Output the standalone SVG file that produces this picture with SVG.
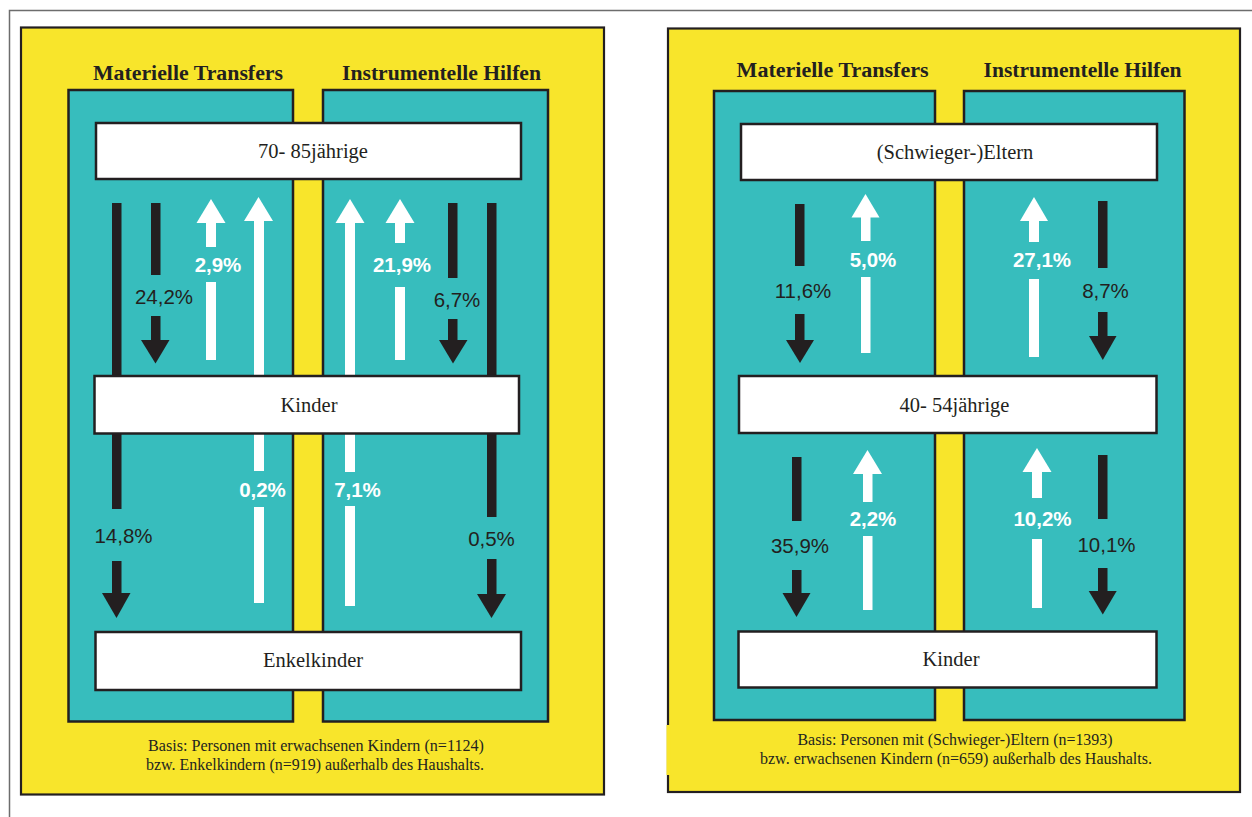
<svg xmlns="http://www.w3.org/2000/svg" width="1252" height="817" viewBox="0 0 1252 817">
<style>
.frame{fill:none;stroke:#6d6d6d;stroke-width:1.5}
.yellow{fill:#F8E52B;stroke:#231F20;stroke-width:2.2}
.cyan{fill:#37BDBD;stroke:#231F20;stroke-width:2.5}
.box{fill:#FFFFFF;stroke:#231F20;stroke-width:2.5}
.title{font-family:"Liberation Serif",serif;font-weight:bold;font-size:20px;fill:#231F20;text-anchor:middle}
.lbl{font-family:"Liberation Serif",serif;font-size:20.5px;fill:#231F20;text-anchor:middle}
.note{font-family:"Liberation Serif",serif;font-size:16px;fill:#231F20;text-anchor:middle}
.blk{fill:#231F20}
.wht{fill:#FFFFFF}
.pb{font-family:"Liberation Sans",Arial,sans-serif;font-size:20.5px;fill:#231F20;text-anchor:middle}
.pw{font-family:"Liberation Sans",Arial,sans-serif;font-size:20.5px;font-weight:bold;fill:#FFFFFF;text-anchor:middle}
</style>
<rect width="1252" height="817" fill="#FFFFFF"/>
<path class="frame" d="M9.5,817 V10.5 H1252"/>

<!-- Left panel background -->
<g id="panel-left">
<rect class="yellow" x="21" y="27.5" width="583" height="767"/>
<rect class="cyan" x="68.5" y="90" width="224.5" height="631.5"/>
<rect class="cyan" x="323" y="90" width="225" height="631.5"/>
<text class="title" x="188" y="80" textLength="190" lengthAdjust="spacingAndGlyphs">Materielle Transfers</text>
<text class="title" x="441.5" y="80" textLength="199" lengthAdjust="spacingAndGlyphs">Instrumentelle Hilfen</text>
<text class="note" x="316" y="751" textLength="336" lengthAdjust="spacingAndGlyphs">Basis: Personen mit erwachsenen Kindern (n=1124)</text>
<text class="note" x="315" y="770" textLength="338" lengthAdjust="spacingAndGlyphs">bzw. Enkelkindern (n=919) außerhalb des Haushalts.</text>
</g>

<!-- Right panel background -->
<g id="panel-right">
<rect class="yellow" x="668" y="28.5" width="572" height="763.5"/>
<rect x="666.5" y="725" width="4" height="50" fill="#F8E52B"/>
<rect class="cyan" x="714" y="91" width="221" height="629"/>
<rect class="cyan" x="964" y="91" width="220.5" height="629"/>
<text class="title" x="832.6" y="77" textLength="192" lengthAdjust="spacingAndGlyphs">Materielle Transfers</text>
<text class="title" x="1082.6" y="77" textLength="198" lengthAdjust="spacingAndGlyphs">Instrumentelle Hilfen</text>
<text class="note" x="955" y="745" textLength="315" lengthAdjust="spacingAndGlyphs">Basis: Personen mit (Schwieger-)Eltern (n=1393)</text>
<text class="note" x="956" y="764" textLength="392" lengthAdjust="spacingAndGlyphs">bzw. erwachsenen Kindern (n=659) außerhalb des Haushalts.</text>
</g>

<!-- Connectors -->
<g id="connectors">
<!-- Left: Materielle -->
<g id="c-14-8">
<rect class="blk" x="112" y="203" width="9.5" height="306"/>
<rect class="blk" x="112" y="561" width="9.5" height="33"/>
<polygon class="blk" points="102,593 130.5,593 116.5,618"/>
<text class="pb" x="123.5" y="543">14,8%</text>
</g>
<g id="c-24-2">
<rect class="blk" x="151" y="203" width="9.5" height="72"/>
<rect class="blk" x="151" y="316" width="9.5" height="25"/>
<polygon class="blk" points="141,340 169.5,340 155.5,363.5"/>
<text class="pb" x="164" y="304">24,2%</text>
</g>
<g id="c-2-9">
<polygon class="wht" points="211,199 225.5,223 196.5,223"/>
<rect class="wht" x="206" y="222" width="10" height="25"/>
<rect class="wht" x="206" y="282" width="10" height="78"/>
<text class="pw" x="218" y="272">2,9%</text>
</g>
<g id="c-0-2">
<polygon class="wht" points="258.5,197 273,221 244,221"/>
<rect class="wht" x="254" y="220" width="10" height="251"/>
<rect class="wht" x="254" y="507" width="10" height="96"/>
<text class="pw" x="262.5" y="497">0,2%</text>
</g>
<!-- Left: Instrumentelle -->
<g id="c-7-1">
<polygon class="wht" points="350,199 364.5,223 335.5,223"/>
<rect class="wht" x="345" y="222" width="10" height="250"/>
<rect class="wht" x="345" y="506" width="10" height="100"/>
<text class="pw" x="357.5" y="497">7,1%</text>
</g>
<g id="c-21-9">
<polygon class="wht" points="400,199 414.5,223 385.5,223"/>
<rect class="wht" x="395" y="222" width="10" height="21"/>
<rect class="wht" x="395" y="287" width="10" height="73"/>
<text class="pw" x="402" y="272">21,9%</text>
</g>
<g id="c-6-7">
<rect class="blk" x="448" y="203" width="9.5" height="75"/>
<rect class="blk" x="448" y="319" width="9.5" height="22"/>
<polygon class="blk" points="439,340 467.5,340 453,363.5"/>
<text class="pb" x="457" y="307">6,7%</text>
</g>
<g id="c-0-5">
<rect class="blk" x="487" y="203" width="9.5" height="314"/>
<rect class="blk" x="487" y="559" width="9.5" height="36"/>
<polygon class="blk" points="477,594 506,594 491.5,618"/>
<text class="pb" x="491.5" y="546">0,5%</text>
</g>
<!-- Right: Materielle -->
<g id="c-11-6">
<rect class="blk" x="795" y="204" width="9.5" height="62"/>
<rect class="blk" x="795" y="314" width="9.5" height="27"/>
<polygon class="blk" points="786,340 814,340 800,363"/>
<text class="pb" x="803" y="298">11,6%</text>
</g>
<g id="c-5-0">
<polygon class="wht" points="865.5,194 879.5,217.5 851.5,217.5"/>
<rect class="wht" x="861" y="216.5" width="9.5" height="24.5"/>
<rect class="wht" x="861" y="277" width="9.5" height="76"/>
<text class="pw" x="873" y="267">5,0%</text>
</g>
<g id="c-35-9">
<rect class="blk" x="792" y="457" width="9.5" height="64"/>
<rect class="blk" x="792" y="570" width="9.5" height="24"/>
<polygon class="blk" points="782.5,593 810.5,593 796.5,617"/>
<text class="pb" x="800" y="553">35,9%</text>
</g>
<g id="c-2-2">
<polygon class="wht" points="867.5,450 882,474 853,474"/>
<rect class="wht" x="863" y="473" width="9.5" height="29"/>
<rect class="wht" x="863" y="536" width="9.5" height="74"/>
<text class="pw" x="873" y="526">2,2%</text>
</g>
<!-- Right: Instrumentelle -->
<g id="c-27-1">
<polygon class="wht" points="1034,197 1048,221 1020,221"/>
<rect class="wht" x="1029" y="220" width="10" height="22"/>
<rect class="wht" x="1029" y="279" width="10" height="78"/>
<text class="pw" x="1042" y="267">27,1%</text>
</g>
<g id="c-8-7">
<rect class="blk" x="1098" y="201" width="9.5" height="67"/>
<rect class="blk" x="1098" y="312" width="9.5" height="25"/>
<polygon class="blk" points="1089,336 1116.5,336 1102.8,360"/>
<text class="pb" x="1105.5" y="298">8,7%</text>
</g>
<g id="c-10-2">
<polygon class="wht" points="1037,448 1051.5,472 1022.5,472"/>
<rect class="wht" x="1032" y="471" width="10" height="27"/>
<rect class="wht" x="1032" y="539" width="10" height="69"/>
<text class="pw" x="1042.5" y="526">10,2%</text>
</g>
<g id="c-10-1">
<rect class="blk" x="1098" y="455" width="9.5" height="64"/>
<rect class="blk" x="1098" y="568" width="9.5" height="24"/>
<polygon class="blk" points="1088.7,591 1116.7,591 1102.8,614.5"/>
<text class="pb" x="1106.5" y="552">10,1%</text>
</g>
</g>

<!-- Nodes -->
<g id="node-70-85">
<rect class="box" x="96" y="123" width="425" height="56"/>
<text class="lbl" x="313" y="158">70- 85jährige</text>
</g>
<g id="node-kinder-left">
<rect class="box" x="94.5" y="376" width="424.5" height="57.5"/>
<text class="lbl" x="309" y="412">Kinder</text>
</g>
<g id="node-enkelkinder">
<rect class="box" x="95.5" y="632" width="425.5" height="58"/>
<text class="lbl" x="313" y="667">Enkelkinder</text>
</g>
<g id="node-schwiegereltern">
<rect class="box" x="741" y="124" width="416" height="56"/>
<text class="lbl" x="955" y="159">(Schwieger-)Eltern</text>
</g>
<g id="node-40-54">
<rect class="box" x="739" y="376" width="417.5" height="57"/>
<text class="lbl" x="954.5" y="412">40- 54jährige</text>
</g>
<g id="node-kinder-right">
<rect class="box" x="738.5" y="631.5" width="418" height="56"/>
<text class="lbl" x="951" y="666">Kinder</text>
</g>
</svg>
